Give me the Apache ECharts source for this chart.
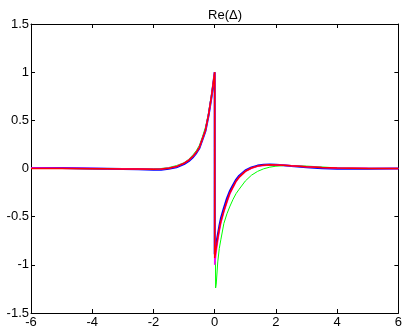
<!DOCTYPE html>
<html>
<head>
<meta charset="utf-8">
<style>
  html, body { margin: 0; padding: 0; background: #fff; }
  #chart { width: 405px; height: 330px; }
</style>
<script src="https://cdn.jsdelivr.net/npm/echarts@6/dist/echarts.min.js"></script>
</head>
<body>
<div id="chart"></div>
<script>
// Sample positions (the jump at x = 0 is drawn as two points at the same x)
var xs = [-6, -5, -4, -3.5, -3, -2.5, -2, -1.75, -1.5, -1.25, -1, -0.85, -0.7, -0.6, -0.5, -0.4, -0.3, -0.2, -0.1, -0.05, 0,
          0, 0.05, 0.1, 0.15, 0.2, 0.3, 0.4, 0.5, 0.6, 0.7, 0.8, 1, 1.2, 1.4, 1.6, 1.8, 2, 2.25, 2.5, 3, 3.5, 4, 5, 6];
var xsGreen = [-6, -5, -4, -3.5, -3, -2.5, -2, -1.75, -1.5, -1.25, -1, -0.85, -0.7, -0.6, -0.5, -0.4, -0.3, -0.2, -0.1, -0.05, 0,
          0.03, 0.05, 0.1, 0.15, 0.2, 0.3, 0.4, 0.5, 0.6, 0.7, 0.8, 1, 1.2, 1.4, 1.6, 1.8, 2, 2.25, 2.5, 3, 3.5, 4, 5, 6];

var yGreen = [0.002, 0.001, -0.004, -0.01, -0.006, -0.004, -0.003, 0.0, 0.01, 0.03, 0.06, 0.095, 0.145, 0.185, 0.24, 0.33, 0.43, 0.58, 0.78, 0.89, 1.0,
              -1.24, -1.2, -0.97, -0.83, -0.74, -0.57, -0.47, -0.39, -0.32, -0.26, -0.215, -0.13, -0.07, -0.03, -0.003, 0.014, 0.024, 0.03, 0.031, 0.025, 0.016, 0.006, 0.001, 0.0];
var yBlue = [0.005, 0.004, 0.0, -0.002, -0.004, -0.008, -0.013, -0.012, -0.002, 0.012, 0.045, 0.075, 0.12, 0.16, 0.21, 0.30, 0.39, 0.55, 0.75, 0.87, 1.0,
             -0.89, -0.78, -0.69, -0.60, -0.52, -0.41, -0.31, -0.23, -0.17, -0.115, -0.075, -0.02, 0.012, 0.03, 0.04, 0.041, 0.038, 0.033, 0.025, 0.012, 0.003, -0.003, -0.002, 0.0];
var yMagenta = [0.004, 0.002, 0.0, -0.002, -0.003, -0.005, -0.007, -0.005, 0.004, 0.021, 0.056, 0.086, 0.13, 0.17, 0.22, 0.31, 0.40, 0.56, 0.76, 0.88, 1.0,
                -1.0, -0.86, -0.75, -0.65, -0.57, -0.45, -0.35, -0.26, -0.195, -0.135, -0.09, -0.03, 0.003, 0.022, 0.032, 0.036, 0.036, 0.033, 0.028, 0.018, 0.01, 0.005, 0.002, 0.001];
var yRed = [0.0, 0.0, -0.002, -0.003, -0.004, -0.006, -0.008, -0.006, 0.003, 0.02, 0.055, 0.085, 0.13, 0.17, 0.22, 0.31, 0.40, 0.56, 0.76, 0.88, 1.0,
            -0.93, -0.82, -0.72, -0.63, -0.55, -0.44, -0.34, -0.25, -0.19, -0.13, -0.09, -0.03, 0.005, 0.025, 0.035, 0.038, 0.037, 0.034, 0.028, 0.018, 0.01, 0.004, 0.0, 0.0];

var xTicks = { min: -6, max: 6, interval: 2 };
var yTicks = { min: -1.5, max: 1.5, interval: 0.5 };

function pairs(x, y) {
  return x.map(function (v, i) { return [v, y[i]]; });
}

function line(name, x, y, color, width) {
  return {
    name: name,
    type: 'line',
    data: pairs(x, y),
    showSymbol: false,
    symbol: 'none',
    smooth: false,
    animation: false,
    lineStyle: { color: color, width: width },
    xAxisIndex: 0,
    yAxisIndex: 0
  };
}

var font = 'Liberation Sans, Arial, sans-serif';
var axisLineStyle = { show: true, onZero: false, lineStyle: { color: '#000', width: 1 } };
var tickStyle = { show: true, inside: true, length: 4, lineStyle: { color: '#000', width: 1 } };

var chart = echarts.init(document.getElementById('chart'), null, { renderer: 'canvas' });
chart.setOption({
  backgroundColor: '#fff',
  animation: false,
  title: {
    text: 'Re(Δ)',
    left: 220,
    top: 4,
    textAlign: 'center',
    textStyle: { fontFamily: font, fontSize: 13, fontWeight: 'normal', color: '#000' }
  },
  grid: { left: 31, right: 6, top: 24, bottom: 17, containLabel: false },
  xAxis: [
    {
      type: 'value', position: 'bottom', min: xTicks.min, max: xTicks.max, interval: xTicks.interval,
      axisLine: axisLineStyle, axisTick: tickStyle, splitLine: { show: false },
      axisLabel: { color: '#000', fontFamily: font, fontSize: 13, margin: 3 }
    },
    {
      type: 'value', position: 'top', min: xTicks.min, max: xTicks.max, interval: xTicks.interval,
      axisLine: axisLineStyle, axisTick: tickStyle, splitLine: { show: false },
      axisLabel: { show: false }
    }
  ],
  yAxis: [
    {
      type: 'value', position: 'left', min: yTicks.min, max: yTicks.max, interval: yTicks.interval,
      axisLine: axisLineStyle, axisTick: tickStyle, splitLine: { show: false },
      axisLabel: { color: '#000', fontFamily: font, fontSize: 13, margin: 2 }
    },
    {
      type: 'value', position: 'right', min: yTicks.min, max: yTicks.max, interval: yTicks.interval,
      axisLine: axisLineStyle, axisTick: tickStyle, splitLine: { show: false },
      axisLabel: { show: false }
    }
  ],
  series: [
    line('green', xsGreen, yGreen, '#00ff00', 1),
    line('blue', xs, yBlue, '#0000ff', 2),
    line('magenta', xs, yMagenta, '#ff00ff', 1.5),
    line('red', xs, yRed, '#ff0000', 1.5)
  ]
});
</script>
</body>
</html>
